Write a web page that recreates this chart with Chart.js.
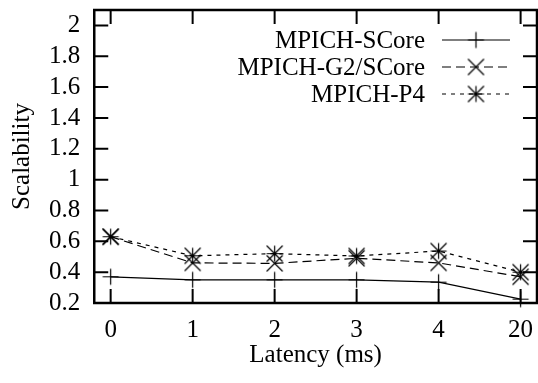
<!DOCTYPE html>
<html>
<head>
<meta charset="utf-8">
<script src="https://cdn.jsdelivr.net/npm/chart.js@4.4.1/dist/chart.umd.min.js"></script>
<style>
  html, body { margin: 0; padding: 0; background: #fff; }
  #wrap { width: 538px; height: 383px; }
</style>
</head>
<body>
<div id="wrap"><canvas id="chart" width="538" height="383"></canvas></div>
<script>
// latency categories (x axis)
var latencyLabels = ['0', '1', '2', '3', '4', '20'];

var scoreValues = [0.37, 0.35, 0.35, 0.35, 0.335, 0.225];
var g2ScoreValues = [0.63, 0.46, 0.457, 0.49, 0.46, 0.37];
var p4Values = [0.63, 0.506, 0.52, 0.505, 0.537, 0.40];

var seriesNames = ['MPICH-SCore', 'MPICH-G2/SCore', 'MPICH-P4'];

var yTicks = [0.2, 0.4, 0.6, 0.8, 1, 1.2, 1.4, 1.6, 1.8, 2];
var yTickLabels = ['0.2', '0.4', '0.6', '0.8', '1', '1.2', '1.4', '1.6', '1.8', '2'];

var FONT = 'Liberation Serif';

// gnuplot-like markers drawn into small canvases
function makeMarker(kind) {
    var s = 8;
    var c = document.createElement('canvas');
    c.width = 2 * s + 3;
    c.height = 2 * s + 3;
    var g = c.getContext('2d');
    var m = c.width / 2;
    g.strokeStyle = '#000';
    g.lineWidth = 1.2;
    g.beginPath();
    if (kind === 'plus' || kind === 'star') {
        g.moveTo(m - s, m); g.lineTo(m + s, m);
        g.moveTo(m, m - s); g.lineTo(m, m + s);
    }
    if (kind === 'cross' || kind === 'star') {
        g.moveTo(m - s, m - s); g.lineTo(m + s, m + s);
        g.moveTo(m - s, m + s); g.lineTo(m + s, m - s);
    }
    g.stroke();
    return c;
}

var markers = [makeMarker('plus'), makeMarker('cross'), makeMarker('star')];
var dashes = [[], [9, 5], [4, 5]];

function toPoints(vals) {
    return vals.map(function (v, i) { return { x: i, y: v }; });
}

// no label overhang padding, and count the tick padding only once
function fitX(scale) {
    scale.paddingLeft = 0;
    scale.paddingRight = 0;
    scale.height -= scale.options.ticks.padding;
}
function fitY(scale) {
    scale.paddingTop = 0;
    scale.paddingBottom = 0;
    scale.width -= scale.options.ticks.padding;
}

var frameAndLegend = {
    id: 'frameAndLegend',
    afterDraw: function (chart) {
        var ctx = chart.ctx;
        var a = chart.chartArea;
        var xs = chart.scales.x, ys = chart.scales.y;
        var tl = 14;
        ctx.save();
        ctx.strokeStyle = '#000';
        // ticks, inward on all sides
        ctx.lineWidth = 2;
        ctx.beginPath();
        for (var i = 0; i < latencyLabels.length; i++) {
            var px = xs.getPixelForValue(i);
            ctx.moveTo(px, a.bottom); ctx.lineTo(px, a.bottom - tl);
            ctx.moveTo(px, a.top); ctx.lineTo(px, a.top + tl);
        }
        for (var j = 0; j < yTicks.length; j++) {
            var py = ys.getPixelForValue(yTicks[j]);
            ctx.moveTo(a.left, py); ctx.lineTo(a.left + tl, py);
            ctx.moveTo(a.right, py); ctx.lineTo(a.right - tl, py);
        }
        ctx.stroke();
        // frame
        ctx.lineWidth = 2.5;
        ctx.strokeRect(a.left, a.top, a.right - a.left, a.bottom - a.top);

        // legend, gnuplot style (text right aligned, sample on the right)
        ctx.font = '25px "' + FONT + '"';
        ctx.textAlign = 'right';
        ctx.textBaseline = 'middle';
        ctx.fillStyle = '#000';
        chart.data.datasets.forEach(function (ds, k) {
            var ly = a.top + 30 + k * 27;
            ctx.fillText(ds.label, 425, ly + 1);
            ctx.lineWidth = 1.2;
            ctx.setLineDash(ds.borderDash);
            ctx.beginPath();
            ctx.moveTo(442, ly); ctx.lineTo(510, ly);
            ctx.stroke();
            ctx.setLineDash([]);
            var mk = ds.pointStyle;
            ctx.drawImage(mk, 476 - mk.width / 2, ly - mk.height / 2);
        });
        ctx.restore();
    }
};

var allValues = [scoreValues, g2ScoreValues, p4Values];

new Chart(document.getElementById('chart').getContext('2d'), {
    type: 'line',
    data: {
        datasets: allValues.map(function (vals, k) {
            return {
                label: seriesNames[k],
                data: toPoints(vals),
                borderColor: '#000',
                borderWidth: 1.2,
                borderDash: dashes[k],
                pointStyle: markers[k],
                pointRadius: 8,
                pointHoverRadius: 8,
                fill: false,
                tension: 0
            };
        })
    },
    options: {
        responsive: false,
        animation: false,
        clip: false,
        layout: { autoPadding: false, padding: { left: 7, right: 1, top: 10, bottom: 15 } },
        plugins: {
            legend: { display: false },
            tooltip: { enabled: false }
        },
        scales: {
            x: {
                type: 'linear',
                min: -0.2,
                max: 5.2,
                afterBuildTicks: function (scale) {
                    scale.ticks = latencyLabels.map(function (l, i) { return { value: i }; });
                },
                afterFit: fitX,
                ticks: {
                    color: '#000',
                    padding: 15,
                    maxRotation: 0,
                    font: { family: FONT, size: 25, lineHeight: 1 },
                    callback: function (v) { return latencyLabels[v]; }
                },
                grid: { display: false, drawTicks: false },
                border: { display: false },
                title: {
                    display: true,
                    text: 'Latency (ms)',
                    color: '#000',
                    padding: { top: 0, bottom: 0 },
                    font: { family: FONT, size: 25, lineHeight: 1 }
                }
            },
            y: {
                min: 0.2,
                max: 2.1,
                afterBuildTicks: function (scale) {
                    scale.ticks = yTicks.map(function (v) { return { value: v }; });
                },
                afterFit: fitY,
                ticks: {
                    color: '#000',
                    padding: 14,
                    font: { family: FONT, size: 25, lineHeight: 1 },
                    callback: function (v) {
                        var i = yTicks.indexOf(v);
                        return i >= 0 ? yTickLabels[i] : '';
                    }
                },
                grid: { display: false, drawTicks: false },
                border: { display: false },
                title: {
                    display: true,
                    text: 'Scalability',
                    color: '#000',
                    padding: { top: 0, bottom: 12 },
                    font: { family: FONT, size: 25, lineHeight: 1.2 }
                }
            }
        }
    },
    plugins: [frameAndLegend]
});
</script>
</body>
</html>
